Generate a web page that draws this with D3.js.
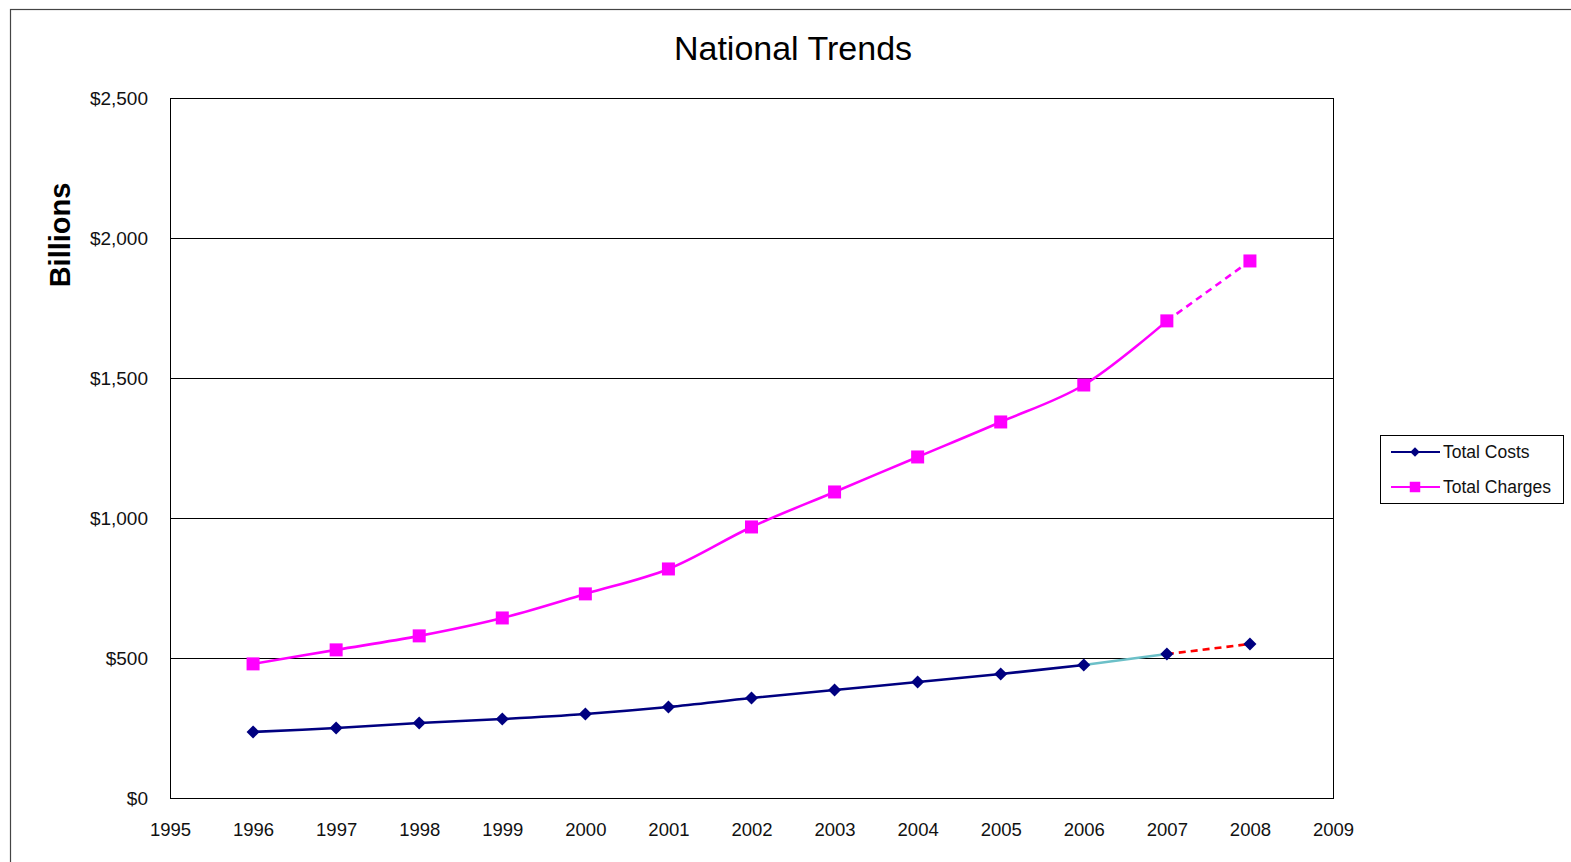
<!DOCTYPE html>
<html>
<head>
<meta charset="utf-8">
<script src="https://cdn.jsdelivr.net/npm/d3@7"></script>
<style>
  html, body { margin: 0; padding: 0; background: #fff; overflow: hidden; }
  svg { display: block; }
  text { font-family: "Liberation Sans", Arial, sans-serif; fill: #000; }
</style>
</head>
<body>
<div id="chart"></div>
<script>
var years = [1996, 1997, 1998, 1999, 2000, 2001, 2002, 2003, 2004, 2005, 2006, 2007, 2008];
var totalCosts = [236, 250, 268, 282, 300, 325, 357, 386, 414, 443, 475, 514, 550];
var totalCharges = [479, 529, 579, 643, 729, 818, 968, 1093, 1218, 1343, 1475, 1704, 1918];
var yTicks = [0, 500, 1000, 1500, 2000, 2500];
var xTicks = d3.range(1995, 2010);

var W = 1571, H = 862;
var margin = {top: 98, left: 170};
var width = 1333 - margin.left, height = 798 - margin.top;

var svg = d3.select("#chart").append("svg")
    .attr("width", W)
    .attr("height", H);

// outer chart frame
svg.append("rect")
    .attr("x", 10.5).attr("y", 9.5)
    .attr("width", W).attr("height", H)
    .style("fill", "none").style("stroke", "#444").style("stroke-width", 1.2);

svg.append("text")
    .attr("x", 793).attr("y", 60)
    .style("text-anchor", "middle")
    .style("font-size", "34px")
    .text("National Trends");

var g = svg.append("g")
    .attr("transform", "translate(" + margin.left + "," + margin.top + ")");

var x = d3.scaleLinear().domain([1995, 2009]).range([0, width]);
var y = d3.scaleLinear().domain([0, 2500]).range([height, 0]);

// gridlines
g.selectAll(".grid")
    .data(yTicks)
  .enter().append("line")
    .attr("x1", 0).attr("x2", width)
    .attr("y1", function(d) { return Math.round(y(d)) + 0.5; })
    .attr("y2", function(d) { return Math.round(y(d)) + 0.5; })
    .style("stroke", "#000").style("stroke-width", 1);

g.append("rect")
    .attr("x", 0.5).attr("y", 0.5)
    .attr("width", width).attr("height", height)
    .style("fill", "none").style("stroke", "#000").style("stroke-width", 1);

var yAxis = d3.axisLeft(y).tickValues(yTicks).tickSize(0).tickPadding(22)
    .tickFormat(function(d) { return "$" + d3.format(",")(d); });
var xAxis = d3.axisBottom(x).tickValues(xTicks).tickSize(0).tickPadding(25)
    .tickFormat(d3.format("d"));

g.append("g").call(yAxis)
    .call(function(s) { s.select(".domain").remove(); })
    .selectAll("text").style("font-size", "19px").style("fill", "#111");

g.append("g").attr("transform", "translate(0," + height + ")").call(xAxis)
    .call(function(s) { s.select(".domain").remove(); })
    .selectAll("text").style("font-size", "18.5px").style("fill", "#111");

svg.append("text")
    .attr("transform", "translate(70,235) rotate(-90)")
    .style("text-anchor", "middle")
    .style("font-size", "29px").style("font-weight", "bold")
    .text("Billions");

var line = d3.line()
    .x(function(d) { return x(d[0]); })
    .y(function(d) { return y(d[1]); })
    .curve(d3.curveCatmullRom.alpha(0.5));

function pts(vals, a, b) {
    var out = [];
    for (var i = a; i <= b; i++) out.push([years[i], vals[i]]);
    return out;
}

var n = years.length;

// Total Charges
g.append("path").datum(pts(totalCharges, 0, n - 2))
    .attr("d", line)
    .style("fill", "none").style("stroke", "#ff00ff").style("stroke-width", 2.6);
g.append("path").datum(pts(totalCharges, n - 2, n - 1))
    .attr("d", line)
    .style("fill", "none").style("stroke", "#ff00ff").style("stroke-width", 2.6)
    .style("stroke-dasharray", "7,5");

// Total Costs
g.append("path").datum(pts(totalCosts, 0, n - 3))
    .attr("d", line)
    .style("fill", "none").style("stroke", "#000080").style("stroke-width", 2.6);
g.append("path").datum(pts(totalCosts, n - 3, n - 2))
    .attr("d", line)
    .style("fill", "none").style("stroke", "#6cc0c8").style("stroke-width", 2.6);
g.append("path").datum(pts(totalCosts, n - 2, n - 1))
    .attr("d", line)
    .style("fill", "none").style("stroke", "#ff0000").style("stroke-width", 2.6)
    .style("stroke-dasharray", "7,5");

var diamond = d3.symbol().type(d3.symbolSquare).size(85);

g.selectAll(".cost")
    .data(years)
  .enter().append("path")
    .attr("class", "cost")
    .attr("d", diamond)
    .attr("transform", function(d, i) {
        return "translate(" + x(d) + "," + y(totalCosts[i]) + ") rotate(45)";
    })
    .style("fill", "#000080");

g.selectAll(".charge")
    .data(years)
  .enter().append("rect")
    .attr("class", "charge")
    .attr("x", function(d) { return x(d) - 6.5; })
    .attr("y", function(d, i) { return y(totalCharges[i]) - 6.5; })
    .attr("width", 13).attr("height", 13)
    .style("fill", "#ff00ff");

// legend
var legend = svg.append("g").attr("transform", "translate(1380,435)");
legend.append("rect")
    .attr("x", 0.5).attr("y", 0.5).attr("width", 183).attr("height", 68)
    .style("fill", "#fff").style("stroke", "#000").style("stroke-width", 1);

var items = [
    {name: "Total Costs", color: "#000080", shape: "diamond"},
    {name: "Total Charges", color: "#ff00ff", shape: "square"}
];
var li = legend.selectAll(".li")
    .data(items)
  .enter().append("g")
    .attr("class", "li")
    .attr("transform", function(d, i) { return "translate(0," + (17 + i * 35) + ")"; });
li.append("line")
    .attr("x1", 11).attr("x2", 60)
    .style("stroke", function(d) { return d.color; }).style("stroke-width", 2);
li.append("path")
    .attr("d", function(d) {
        return d.shape === "diamond" ? d3.symbol().type(d3.symbolSquare).size(45)() : d3.symbol().type(d3.symbolSquare).size(110)();
    })
    .attr("transform", function(d) { return "translate(35,0)" + (d.shape === "diamond" ? " rotate(45)" : ""); })
    .style("fill", function(d) { return d.color; });
li.append("text")
    .attr("x", 63).attr("dy", ".35em")
    .style("font-size", "17.5px").style("fill", "#111")
    .text(function(d) { return d.name; });
</script>
</body>
</html>
